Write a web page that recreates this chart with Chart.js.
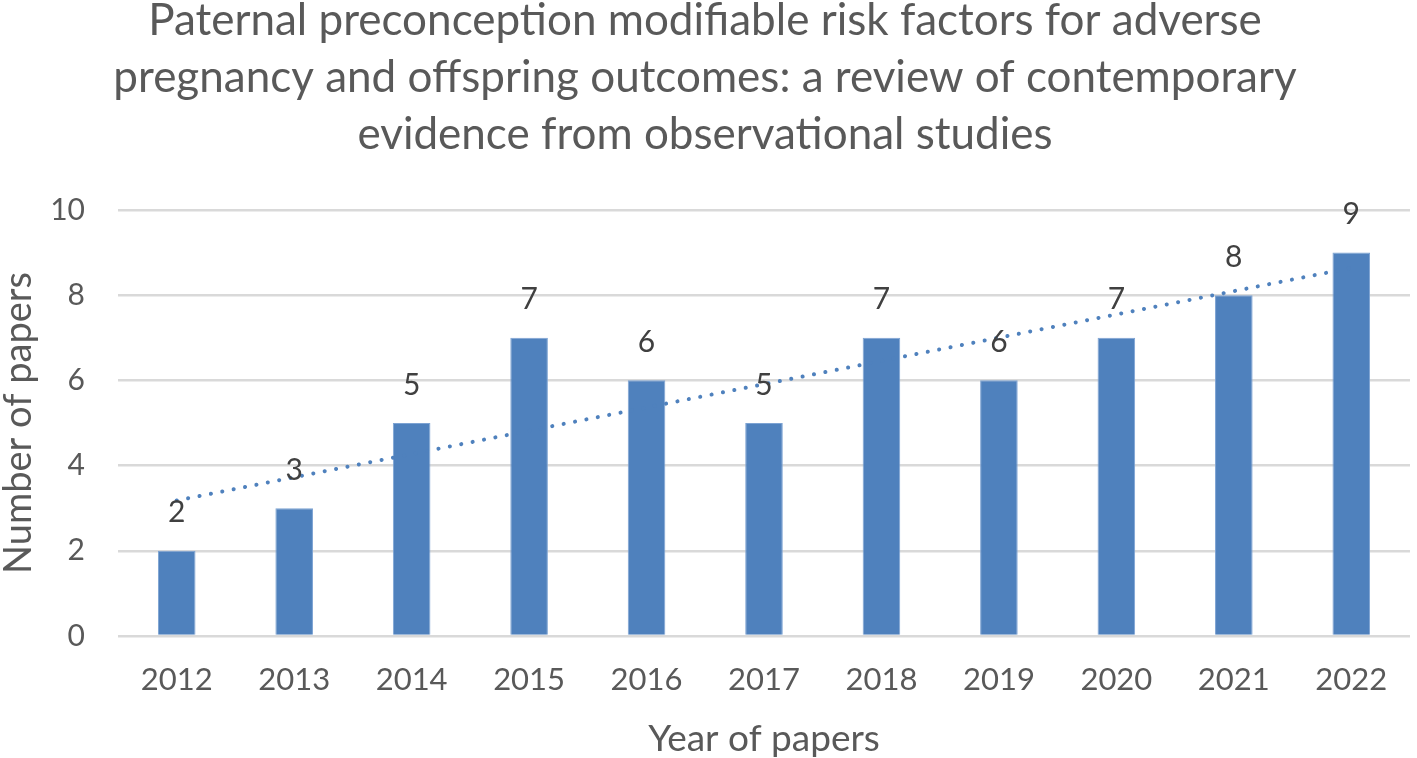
<!DOCTYPE html>
<html>
<head>
<meta charset="utf-8">
<script src="https://cdn.jsdelivr.net/npm/chart.js@4"></script>
<style>
  html,body{margin:0;padding:0;background:#fff;}
  #wrap{width:1417px;height:758px;}
</style>
</head>
<body>
<div id="wrap"><canvas id="c" width="1417" height="758"></canvas></div>
<script>
'use strict';
const years=['2012','2013','2014','2015','2016','2017','2018','2019','2020','2021','2022'];
const papers=[2,3,5,7,6,5,7,6,7,8,9];
// linear trendline ends
const trend=[3.18,null,null,null,null,null,null,null,null,null,8.64];
const titleLines=[
  'Paternal preconception modifiable risk factors for adverse',
  'pregnancy and offspring outcomes: a review of contemporary',
  'evidence from observational studies'
];

const FONT='Lato, "Open Sans", sans-serif';
const BLUE='#4F81BD';

const barLabels={
  id:'barLabels',
  afterDatasetsDraw(chart){
    const ctx=chart.ctx;
    const meta=chart.getDatasetMeta(0);
    ctx.save();
    ctx.font='30px '+FONT;
    ctx.fillStyle='#404040';
    ctx.textAlign='center';
    ctx.textBaseline='middle';
    meta.data.forEach((bar,i)=>{
      const p=bar.getProps(['x','y'],true);
      ctx.fillText(String(papers[i]),p.x,p.y-38);
    });
    ctx.restore();
  }
};

new Chart(document.getElementById('c').getContext('2d'),{
  type:'bar',
  data:{
    labels:years,
    datasets:[{
      label:'Papers',
      data:papers,
      backgroundColor:BLUE,
      borderColor:'#7DA3D3',
      borderWidth:1,
      barPercentage:0.32,
      categoryPercentage:1,
      order:2
    },{
      type:'line',
      label:'Trend',
      data:trend,
      spanGaps:true,
      borderColor:BLUE,
      borderWidth:4,
      borderDash:[0.1,11.5],
      borderCapStyle:'round',
      pointRadius:0,
      fill:false,
      order:1
    }]
  },
  options:{
    responsive:false,
    animation:false,
    layout:{padding:{left:0,right:7,top:0,bottom:0}},
    plugins:{
      legend:{display:false},
      tooltip:{enabled:false},
      title:{
        display:true,
        text:titleLines,
        color:'#595959',
        font:{family:FONT,size:44,weight:'normal',lineHeight:1.295},
        padding:{top:-8,bottom:47}
      }
    },
    scales:{
      x:{
        grid:{display:false},
        border:{display:false},
        ticks:{color:'#595959',font:{family:FONT,size:31},padding:17},
        title:{display:true,text:'Year of papers',color:'#595959',font:{family:FONT,size:37,lineHeight:1},padding:{top:0,bottom:0}},
        afterFit(s){s.height=122;}
      },
      y:{
        min:0,max:10,
        ticks:{stepSize:2,color:'#595959',font:{family:FONT,size:30},padding:33},
        grid:{color:'#D9D9D9',lineWidth:2.5,drawTicks:false},
        border:{display:false},
        title:{display:true,text:'Number of papers',color:'#595959',font:{family:FONT,size:38,lineHeight:1},padding:{top:0,bottom:0}},
        afterFit(s){s.width=118;}
      }
    }
  },
  plugins:[barLabels]
});
</script>
</body>
</html>
